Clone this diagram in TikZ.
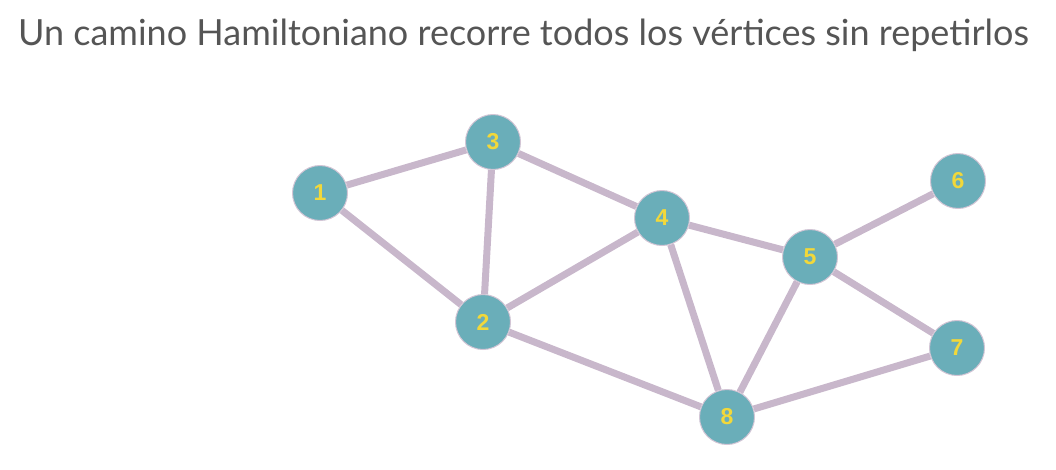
\documentclass[tikz,border=0pt]{standalone}
\usepackage{fontspec}
\setmainfont{Lato}
\newfontfamily\numfont{Liberation Sans}
\definecolor{nodeteal}{HTML}{6AAEB9}
\definecolor{edgelila}{HTML}{C8B7CB}
\definecolor{numyellow}{HTML}{F2D83A}
\definecolor{titlegray}{HTML}{555555}
\begin{document}
	\begin{tikzpicture}
		[x=1pt,y=-1pt,
		vertex/.style={circle,draw=edgelila!80!white,line width=1pt,fill=nodeteal,minimum size=55pt,inner sep=0pt,
			font=\numfont\bfseries\fontsize{23}{23}\selectfont,text=numyellow},
		edge/.style={draw=edgelila,line width=7pt}]
		\useasboundingbox (0,0) rectangle (1056,469);
		\node[anchor=base,text=titlegray,font=\fontsize{36}{36}\selectfont] (title) at (523.5,45) {Un camino Hamiltoniano recorre todos los vértices sin repetirlos};
		\node[vertex] (v1) at (320,193) {1};
		\node[vertex] (v2) at (483,322) {2};
		\node[vertex] (v3) at (493,142) {3};
		\node[vertex] (v4) at (662,218) {4};
		\node[vertex] (v5) at (810,257) {5};
		\node[vertex] (v6) at (958,181) {6};
		\node[vertex] (v7) at (957,348) {7};
		\node[vertex] (v8) at (727,417) {8};
		\path[edge] (v1) -- (v3) (v1) -- (v2) (v3) -- (v2) (v3) -- (v4) (v2) -- (v4)
			(v4) -- (v5) (v4) -- (v8) (v5) -- (v6) (v5) -- (v8) (v5) -- (v7)
			(v2) -- (v8) (v8) -- (v7);
	\end{tikzpicture}
\end{document}
